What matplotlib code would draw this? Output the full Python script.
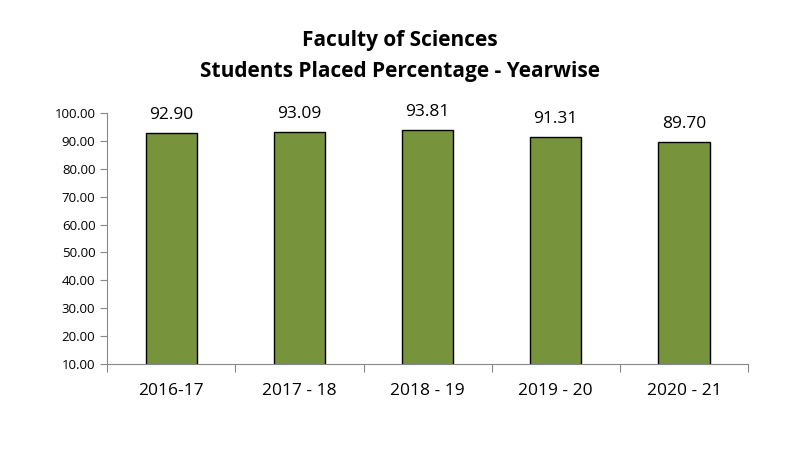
import matplotlib
matplotlib.use('Agg')
import matplotlib.pyplot as plt
import numpy as np

years = ['2016-17', '2017 - 18', '2018 - 19', '2019 - 20', '2020 - 21']
placed_pct = [92.90, 93.09, 93.81, 91.31, 89.70]
yticks = [10, 20, 30, 40, 50, 60, 70, 80, 90, 100]

plt.rcParams['font.family'] = ['Open Sans', 'DejaVu Sans']

fig = plt.figure(figsize=(8, 4.5), dpi=100)
ax = fig.add_axes([0.134, 0.191, 0.801, 0.558])

x = np.arange(len(years))
bars = ax.bar(x, placed_pct, width=0.4, bottom=0,
              color='#77933C', edgecolor='black', linewidth=1)

# data labels just above the bars
for xi, v in zip(x, placed_pct):
    ax.text(xi, v + 6.4, '{:.2f}'.format(v), ha='center', va='center',
            fontsize=12.5, clip_on=False)

ax.set_ylim(10, 100)
ax.set_xlim(-0.5, len(years) - 0.5)
ax.set_yticks(yticks)
ax.set_yticklabels(['{:.2f}'.format(t) for t in yticks], fontsize=9.5)

# category labels at centres, ticks between categories
ax.set_xticks(np.arange(-0.5, len(years)), minor=False)
ax.set_xticklabels([])
ax.set_xticks(x, minor=True)
ax.set_xticklabels(years, minor=True, fontsize=12.5)
ax.tick_params(axis='x', which='minor', length=0, pad=14)
ax.tick_params(axis='x', which='major', length=6, color='#888888', direction='out')
ax.tick_params(axis='y', length=5, color='#888888', direction='out')

for s in ['top', 'right']:
    ax.spines[s].set_visible(False)
ax.spines['left'].set_color('#888888')
ax.spines['bottom'].set_color('#888888')

fig.text(0.5, 0.91, 'Faculty of Sciences', ha='center', va='center', fontsize=15, fontweight='bold')
fig.text(0.5, 0.84, 'Students Placed Percentage - Yearwise', ha='center', va='center', fontsize=15, fontweight='bold')

fig.savefig('out.png', dpi=100)
